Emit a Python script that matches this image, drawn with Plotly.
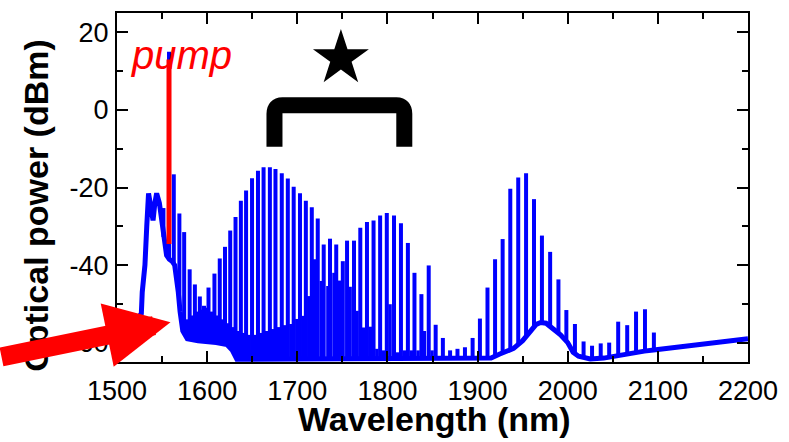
import numpy as np
import plotly.graph_objects as go

# ---- spectrum data (wavelength in nm, power in dBm) ----
# broadband floor / pump-side hump of the optical spectrum
floor_wl = [1500, 1510, 1520, 1527, 1528, 1531, 1533, 1535, 1537.5, 1540, 1542, 1544,
            1547, 1549, 1551, 1553, 1555, 1558, 1561, 1564, 1566, 1568, 1570, 1573,
            1578, 1590, 1610, 1622, 1628, 1633, 1650, 1700, 1800, 1900, 1915, 1924,
            1940, 1950, 1958, 1965, 1970, 1976, 1984, 1992, 2000, 2006, 2012, 2025,
            2040, 2055, 2070, 2085, 2100, 2120, 2140, 2160, 2180, 2200]
floor_db = [-60.5, -57.5, -55, -52.5, -47, -40, -30, -21.5, -25, -28.5, -24, -21.5,
            -24, -28, -32, -35, -37.5, -38.5, -39, -40, -43, -47, -52, -57,
            -59, -59.5, -60, -60.5, -62, -64.3, -64.3, -64.3, -64.3, -64.3, -64, -63,
            -61.5, -59.5, -57, -55.3, -54.8, -55, -56.5, -58, -60, -62.5, -63.5, -64.2,
            -64, -63.3, -62.7, -62.2, -61.8, -61.3, -60.8, -60.3, -59.7, -59]

# primary comb lines (the line at PUMP_WL is the pump)
PUMP_WL = 1557.7
comb_wl = [1545.3, 1551.5, PUMP_WL, 1563.0, 1569.2, 1574.5, 1580.6, 1586.4, 1591.9, 1596.5,
           1601.5, 1608.1, 1614.0, 1619.8, 1625.6, 1631.5, 1637.4, 1643.2, 1649.8, 1656.4,
           1662.6, 1669.6, 1675.8, 1682.8, 1689.5, 1696.0, 1703.0, 1709.5, 1716.1, 1722.7,
           1729.3, 1736.3, 1743.2, 1750.5, 1755.2, 1762.9, 1769.9, 1777.3, 1784.6, 1791.9,
           1799.3, 1807.3, 1815.0, 1822.7, 1830.0, 1837.7, 1845.8, 1853.5, 1861.5, 1869.5,
           1877.7, 1886.0, 1894.5, 1902.6, 1911.0, 1919.4, 1927.8, 1936.3, 1945.1, 1953.8,
           1962.6, 1971.4, 1980.5, 1989.7, 1998.5, 2008.0, 2017.6, 2027.0, 2036.6, 2046.0,
           2056.0, 2066.0, 2075.8, 2085.7, 2095.6]
comb_db = [-23, -25.3, 15, -16.6, -26.7, -31.5, -41.1, -45.0, -48.1, -50.5,
           -45.8, -42.2, -38.3, -35.3, -31.1, -27.6, -23.4, -20.8, -17.6, -15.7,
           -14.8, -14.8, -15.2, -16.3, -17.7, -19.8, -21.5, -23.4, -25.1, -28.0,
           -34.7, -33.2, -34.7, -39.0, -33.7, -33.7, -30.4, -28.9, -28.5, -27.2,
           -26.6, -27.2, -29.2, -34.3, -42.0, -47.5, -40.1, -55.4, -58.8, -62.0,
           -61.6, -61.2, -58.8, -53.8, -45.8, -38.5, -33.3, -20.3, -17.4, -16.3,
           -23.0, -32.4, -36.6, -43.7, -51.6, -55.2, -59.7, -60.8, -60.2, -60.0,
           -54.6, -55.5, -52.0, -51.4, -57.4]

# weaker interleaved sub-comb lines
sub_wl = [1577.5, 1583.5, 1589.0, 1594.0, 1599.0, 1604.8, 1611.0, 1616.9, 1622.7, 1628.5,
          1634.4, 1640.3, 1646.5, 1653.1, 1659.5, 1666.1, 1672.7, 1679.3, 1686.1, 1692.9,
          1699.5, 1706.6, 1712.8, 1719.4, 1726.7, 1734.0, 1740.7, 1747.0, 1758.6, 1766.3,
          1773.6, 1781.0, 1788.3, 1795.6, 1802.9, 1811.0, 1818.9, 1826.4, 1834.0, 1841.0,
          1849.5]
sub_db = [-54, -53, -52, -51.5, -51, -52, -53, -54, -55, -56,
          -57, -57.5, -58, -58, -57.5, -57, -56.5, -56, -55.5, -55.2,
          -53.9, -53.1, -48.0, -38.5, -44.1, -45.4, -42.0, -44.0, -45.6, -51.8,
          -56.1, -55.9, -61.6, -62.0, -50.1, -62.5, -62.0, -62.0, -62.0, -57.0,
          -62.0]

x_ticks = [1500, 1600, 1700, 1800, 1900, 2000, 2100, 2200]
y_ticks = [-60, -40, -20, 0, 20]
y_tick_text = ["-60", "-40", "-20", "0", "20"]

BLUE = "#0000FF"
RED = "#FF0000"
FONT = "Arial, Liberation Sans, sans-serif"

# figure geometry (pixels)
W, H = 789, 442
ML, MR, MT, MB = 117, 35, 11, 80
PW, PH = W - ML - MR, H - MT - MB


def px_x(p):
    return (p - ML) / PW


def px_y(p):
    return (H - MB - p) / PH


def stems(wl, db):
    """Vertical segments rising from the spectral floor to each line peak."""
    base = np.interp(wl, floor_wl, floor_db)
    xs, ys = [], []
    for w, b, d in zip(wl, base, db):
        xs += [w, w, None]
        ys += [b, d, None]
    return xs, ys


fig = go.Figure()

fig.add_trace(go.Scatter(x=floor_wl, y=floor_db, mode="lines",
                         line=dict(color=BLUE, width=5), hoverinfo="skip"))
sx, sy = stems(sub_wl, sub_db)
fig.add_trace(go.Scatter(x=sx, y=sy, mode="lines",
                         line=dict(color=BLUE, width=3.5), hoverinfo="skip"))
cx, cy = stems(comb_wl, comb_db)
fig.add_trace(go.Scatter(x=cx, y=cy, mode="lines",
                         line=dict(color=BLUE, width=4), hoverinfo="skip"))

# star above the bracketed band
fig.add_trace(go.Scatter(x=[1748.4], y=[13.3], mode="markers",
                         marker=dict(symbol="star", size=42, color="black",
                                     line=dict(width=0)),
                         hoverinfo="skip"))

# red pump marker
fig.add_shape(type="line", x0=PUMP_WL, x1=PUMP_WL, y0=13, y1=-34.6,
              xref="x", yref="y", line=dict(color=RED, width=5), layer="above")

# bracket over the 1675-1820 nm band
fig.add_shape(type="path", xref="x", yref="y", layer="above",
              path="M 1674.7,-9.5 L 1674.7,-1.0 Q 1674.7,1.2 1683.5,1.2 "
                   "L 1810,1.2 Q 1818.7,1.2 1818.7,-1.0 L 1818.7,-9.5",
              line=dict(color="black", width=16))

axis_common = dict(showline=True, linecolor="black", linewidth=2, mirror="ticks",
                   ticks="inside", ticklen=11, tickwidth=2, tickcolor="black",
                   showgrid=False, zeroline=False,
                   tickfont=dict(family=FONT, size=27, color="black"))

fig.update_xaxes(range=[1500, 2200], tickvals=x_ticks,
                 minor=dict(dtick=50, tick0=1500, ticks="inside", ticklen=6,
                            tickwidth=2, tickcolor="black"),
                 ticklabelstandoff=4, **axis_common)
fig.update_yaxes(range=[-65, 25], tickvals=y_ticks, ticktext=y_tick_text,
                 minor=dict(dtick=10, tick0=0, ticks="inside", ticklen=6,
                            tickwidth=2, tickcolor="black"),
                 ticklabelstandoff=1, **axis_common)

annotations = [
    dict(text="Wavelength (nm)", xref="paper", yref="paper",
         x=px_x(438), y=px_y(419), xanchor="center", yanchor="middle",
         showarrow=False, font=dict(family=FONT, size=34, color="black", weight="bold")),
    dict(text="Optical power (dBm)", xref="paper", yref="paper", textangle=-90,
         x=px_x(35), y=px_y(205), xanchor="center", yanchor="middle",
         showarrow=False, font=dict(family=FONT, size=34, color="black", weight="bold")),
    dict(text="pump", xref="paper", yref="paper",
         x=px_x(182), y=px_y(53), xanchor="center", yanchor="middle",
         showarrow=False, font=dict(family=FONT, size=40, color=RED, style="italic")),
    # red arrow pointing at the spectral edge
    dict(text="", xref="paper", yref="paper", x=px_x(171), y=px_y(322),
         ax=-195, ay=35, axref="pixel", ayref="pixel",
         showarrow=True, arrowhead=2, arrowwidth=19, arrowsize=0.68,
         arrowcolor=RED, standoff=0),
]

fig.update_layout(width=W, height=H, margin=dict(l=ML, r=MR, t=MT, b=MB),
                  paper_bgcolor="white", plot_bgcolor="white",
                  showlegend=False, annotations=annotations)

fig.write_html("out.html")
